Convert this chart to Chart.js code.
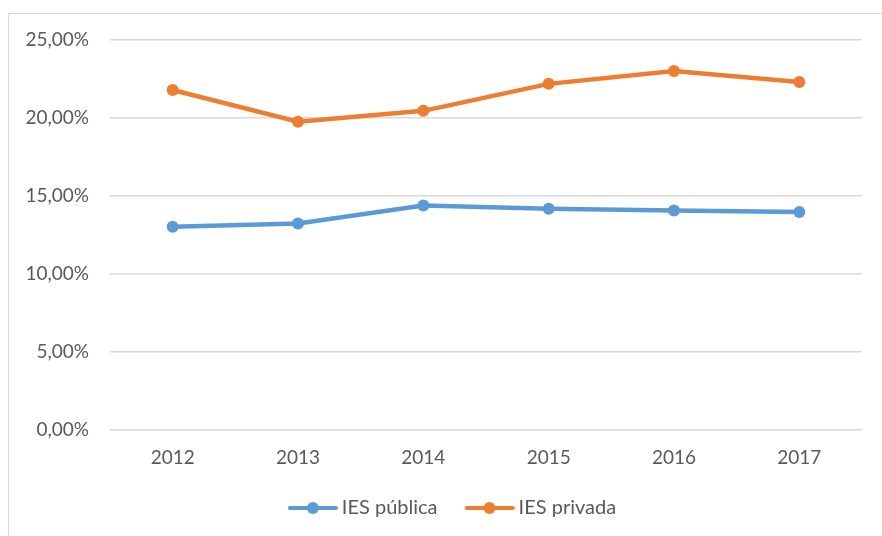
<!DOCTYPE html>
<html>
<head>
<meta charset="utf-8">
<script src="https://cdn.jsdelivr.net/npm/chart.js@4/dist/chart.umd.min.js"></script>
<style>
  body { margin: 0; background: #fff; }
  #wrap { position: relative; width: 882px; height: 536px; overflow: hidden; }
  #frame { position: absolute; left: 8px; top: 13px; width: 900px; height: 600px; border: 1px solid #d9d9d9; }
  #chart1 { position: absolute; left: 0; top: 0; }
</style>
</head>
<body>
<div id="wrap">
  <div id="frame"></div>
  <canvas id="chart1" width="882" height="536"></canvas>
</div>
<script>
const years = ["2012", "2013", "2014", "2015", "2016", "2017"];
const publica = [13.04, 13.24, 14.39, 14.19, 14.07, 13.98];
const privada = [21.80, 19.76, 20.46, 22.19, 23.02, 22.31];
const yTicks = [0, 5, 10, 15, 20, 25];

const blue = '#5B9BD5';
const orange = '#ED7D31';
const textColor = '#595959';
const fontFamily = 'Lato, "Open Sans", sans-serif';

// legend marker: line with a dot in the middle
function legendMarker(color) {
  const c = document.createElement('canvas');
  c.width = 50;
  c.height = 14;
  const g = c.getContext('2d');
  g.strokeStyle = color;
  g.lineWidth = 4;
  g.lineCap = 'round';
  g.beginPath();
  g.moveTo(2, 7);
  g.lineTo(48, 7);
  g.stroke();
  g.fillStyle = color;
  g.beginPath();
  g.arc(25, 7, 6, 0, Math.PI * 2);
  g.fill();
  return c;
}

// nudge the legend a bit to the right, like the original
const legendShift = {
  id: 'legendShift',
  afterLayout(chart) {
    chart.legend.left += 24;
    chart.legend.right += 24;
  }
};

const ctx = document.getElementById('chart1');

new Chart(ctx, {
  type: 'line',
  data: {
    labels: years,
    datasets: [{
      label: 'IES pública',
      data: publica,
      borderColor: blue,
      backgroundColor: blue,
      borderWidth: 4.5,
      pointRadius: 6,
      pointHoverRadius: 6,
      pointBorderWidth: 0,
      tension: 0,
      fill: false
    }, {
      label: 'IES privada',
      data: privada,
      borderColor: orange,
      backgroundColor: orange,
      borderWidth: 4.5,
      pointRadius: 6,
      pointHoverRadius: 6,
      pointBorderWidth: 0,
      tension: 0,
      fill: false
    }]
  },
  plugins: [legendShift],
  options: {
    responsive: false,
    animation: false,
    layout: {
      padding: { top: 40, right: 20, bottom: 8, left: 0 }
    },
    scales: {
      x: {
        offset: true,
        grid: { display: false },
        border: { display: false },
        afterFit: (scale) => {
          scale.height = scale.height - 12;
        },
        ticks: {
          color: textColor,
          font: { family: fontFamily, size: 19 },
          padding: 8
        }
      },
      y: {
        min: 0,
        max: 25,
        afterBuildTicks: (scale) => {
          scale.ticks = yTicks.map(v => ({ value: v }));
        },
        afterFit: (scale) => {
          scale.width = 110;
        },
        grid: { color: '#d9d9d9', lineWidth: 1.5, drawTicks: false },
        border: { display: false },
        ticks: {
          color: textColor,
          font: { family: fontFamily, size: 19 },
          padding: 21,
          callback: (v) => v.toFixed(2).replace('.', ',') + '%'
        }
      }
    },
    plugins: {
      tooltip: { enabled: false },
      legend: {
        position: 'bottom',
        labels: {
          color: textColor,
          font: { family: fontFamily, size: 20 },
          usePointStyle: true,
          pointStyleWidth: 38,
          padding: 33,
          generateLabels: (chart) => chart.data.datasets.map((ds, i) => ({
            text: ds.label,
            fontColor: textColor,
            pointStyle: legendMarker(ds.borderColor),
            datasetIndex: i,
            lineWidth: 0,
            strokeStyle: 'transparent',
            fillStyle: ds.borderColor
          }))
        }
      }
    }
  }
});
</script>
</body>
</html>
